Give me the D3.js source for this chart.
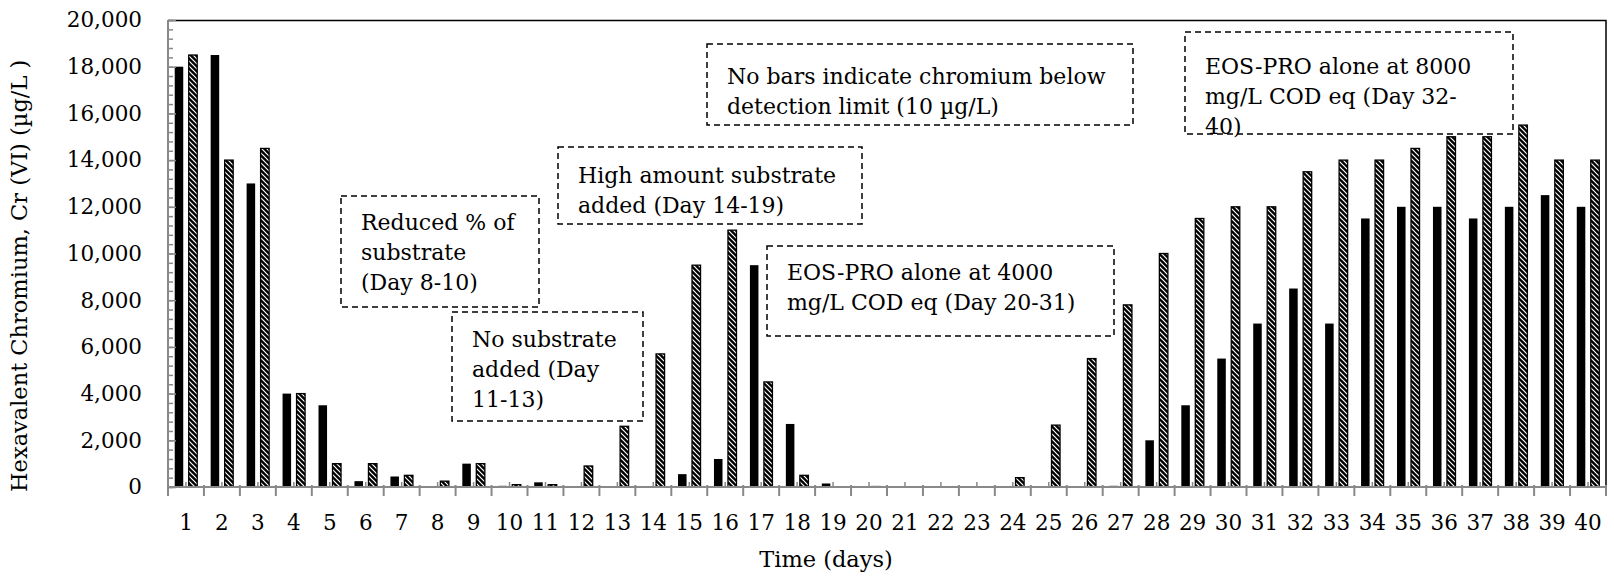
<!doctype html>
<html lang="en">
  <head>
    <meta charset="UTF-8" />
    <title>Hexavalent chromium</title>
    <script src="https://unpkg.com/d3@7.9.0/dist/d3.min.js"></script>
    <style>
      body {
        margin: 0;
        background: #fff;
        overflow: hidden;
      }
      text {
        font-family: 'DejaVu Serif', serif;
        fill: #000;
      }
      .tick text {
        font-size: 21.5px;
      }
      .axis-label {
        font-size: 22.5px;
      }
      .note text {
        font-size: 22px;
      }
    </style>
  </head>
  <body>
    <svg width="1614" height="579"></svg>

    <script>
      // days 1..40
      const days = d3.range(1, 41).map(String);
      const seriesNames = ['a', 'b'];
      // black bars
      const valuesA = [
        18000, 18500, 13000, 4000, 3500, 250, 450, 0, 1000, 50,
        200, 0, 0, 0, 550, 1200, 9500, 2700, 150, 0,
        0, 0, 0, 0, 0, 0, 50, 2000, 3500, 5500,
        7000, 8500, 7000, 11500, 12000, 12000, 11500, 12000, 12500, 12000,
      ];
      // hatched bars
      const valuesB = [
        18500, 14000, 14500, 4000, 1000, 1000, 500, 250, 1000, 100,
        100, 900, 2600, 5700, 9500, 11000, 4500, 500, 0, 20,
        0, 0, 0, 400, 2650, 5500, 7800, 10000, 11500, 12000,
        12000, 13500, 14000, 14000, 14500, 15000, 15000, 15500, 14000, 14000,
      ];
      const yTicks = d3.range(0, 20001, 2000);

      const noteText = [
        ['Reduced % of', 'substrate', '(Day 8-10)'],
        ['No substrate', 'added (Day', '11-13)'],
        ['High amount substrate', 'added (Day 14-19)'],
        ['No bars indicate chromium below', 'detection limit (10 µg/L)'],
        ['EOS-PRO alone at 4000', 'mg/L COD eq (Day 20-31)'],
        ['EOS-PRO alone at 8000', 'mg/L COD eq (Day 32-', '40)'],
      ];
      // box layout: x0, y0, x1, y1, first baseline
      const noteBoxes = [
        [341, 196, 539, 307, 230],
        [452, 312, 643, 421, 347],
        [558, 147, 862, 224, 183],
        [707, 44, 1133, 125, 84],
        [767, 246, 1114, 336, 280],
        [1185, 32, 1513, 134, 74],
      ];

      const margin = { top: 20, right: 8, bottom: 92, left: 168 },
        width = 1614 - margin.left - margin.right,
        height = 579 - margin.top - margin.bottom;

      const root = d3.select('svg');
      const defs = root.append('defs');
      const pat = defs
        .append('pattern')
        .attr('id', 'hatch')
        .attr('patternUnits', 'userSpaceOnUse')
        .attr('width', 5)
        .attr('height', 5);
      pat.append('rect').attr('width', 5).attr('height', 5).attr('fill', '#000');
      pat
        .append('path')
        .attr('d', 'M-1,-1L6,6M-1,4L1,6M4,-1L6,1')
        .attr('stroke', '#fff')
        .attr('stroke-width', 1.2);

      const svg = root
        .append('g')
        .attr('transform', `translate(${margin.left},${margin.top})`);

      const x = d3.scaleBand().domain(days).range([0, width]);
      const xs = d3
        .scaleBand()
        .domain(seriesNames)
        .range([0, x.bandwidth()])
        .paddingInner(0.39)
        .paddingOuter(0.48);
      const y = d3.scaleLinear().domain([0, 20000]).range([height, 0]);

      const gray = '#898989';

      // frame top/right
      svg
        .append('path')
        .attr('d', `M0,0.5H${width}V${height}`)
        .attr('fill', 'none')
        .attr('stroke', '#000')
        .attr('stroke-width', 1.5);

      // bars
      const rows = days.map((d, i) => ({ day: d, a: valuesA[i], b: valuesB[i] }));
      svg
        .selectAll('.bar-a')
        .data(rows)
        .enter()
        .append('rect')
        .attr('class', 'bar-a')
        .attr('x', (d) => x(d.day) + xs('a'))
        .attr('width', xs.bandwidth())
        .attr('y', (d) => y(d.a))
        .attr('height', (d) => height - y(d.a))
        .attr('fill', '#000');
      svg
        .selectAll('.bar-b')
        .data(rows.filter((d) => d.b > 0))
        .enter()
        .append('rect')
        .attr('class', 'bar-b')
        .attr('x', (d) => x(d.day) + xs('b'))
        .attr('width', xs.bandwidth())
        .attr('y', (d) => y(d.b))
        .attr('height', (d) => height - y(d.b))
        .attr('fill', 'url(#hatch)')
        .attr('stroke', '#000')
        .attr('stroke-width', 1.3);

      // y axis
      const yAxis = svg
        .append('g')
        .call(
          d3
            .axisLeft(y)
            .tickValues(yTicks)
            .tickSize(0)
            .tickPadding(26)
            .tickFormat(d3.format(',')),
        );
      yAxis.select('.domain').remove();
      svg
        .append('g')
        .call(
          d3.axisRight(y).tickValues(d3.range(0, 20001, 400)).tickSize(5).tickFormat(''),
        )
        .call((g) => g.selectAll('line').attr('stroke', gray).attr('stroke-width', 1.5))
        .call((g) => g.select('.domain').remove());
      svg
        .append('g')
        .call(d3.axisRight(y).tickValues(yTicks).tickSize(8).tickFormat(''))
        .call((g) => g.selectAll('line').attr('stroke', gray).attr('stroke-width', 1.5))
        .call((g) => g.select('.domain').remove());
      svg
        .append('line')
        .attr('x1', 0)
        .attr('x2', 0)
        .attr('y1', 0)
        .attr('y2', height)
        .attr('stroke', gray)
        .attr('stroke-width', 2);

      // x axis
      const xAxis = svg
        .append('g')
        .attr('transform', `translate(0,${height})`)
        .call(d3.axisBottom(x).tickSize(0).tickPadding(28));
      xAxis.select('.domain').remove();
      // category boundary ticks
      svg
        .selectAll('.xmajor')
        .data(d3.range(0, days.length + 1))
        .enter()
        .append('line')
        .attr('x1', (i) => i * x.step())
        .attr('x2', (i) => i * x.step())
        .attr('y1', height - 2)
        .attr('y2', height + 9)
        .attr('stroke', gray)
        .attr('stroke-width', 2);
      // mid ticks
      svg
        .selectAll('.xminor')
        .data(days)
        .enter()
        .append('line')
        .attr('x1', (d) => x(d) + x.bandwidth() / 2)
        .attr('x2', (d) => x(d) + x.bandwidth() / 2)
        .attr('y1', height - 5)
        .attr('y2', height)
        .attr('stroke', gray)
        .attr('stroke-width', 1.5);
      svg
        .append('line')
        .attr('x1', 0)
        .attr('x2', width)
        .attr('y1', height)
        .attr('y2', height)
        .attr('stroke', gray)
        .attr('stroke-width', 2);

      // axis titles
      root
        .append('text')
        .attr('class', 'axis-label')
        .attr('transform', 'rotate(-90)')
        .attr('x', -492)
        .attr('y', 27)
        .style('text-anchor', 'start')
        .text('Hexavalent Chromium, Cr (VI) (µg/L )');
      root
        .append('text')
        .attr('class', 'axis-label')
        .attr('x', 826)
        .attr('y', 567)
        .style('text-anchor', 'middle')
        .text('Time (days)');

      // annotation boxes
      const notes = root
        .selectAll('.note')
        .data(noteBoxes)
        .enter()
        .append('g')
        .attr('class', 'note');
      notes
        .append('rect')
        .attr('x', (b) => b[0])
        .attr('y', (b) => b[1])
        .attr('width', (b) => b[2] - b[0])
        .attr('height', (b) => b[3] - b[1])
        .attr('fill', 'none')
        .attr('stroke', '#000')
        .attr('stroke-width', 1.5)
        .attr('stroke-dasharray', '6,4');
      notes.each(function (b, i) {
        const t = d3.select(this).append('text');
        noteText[i].forEach((line, k) => {
          t.append('tspan')
            .attr('x', b[0] + 20)
            .attr('y', b[4] + k * 30)
            .text(line);
        });
      });
    </script>
  </body>
</html>
